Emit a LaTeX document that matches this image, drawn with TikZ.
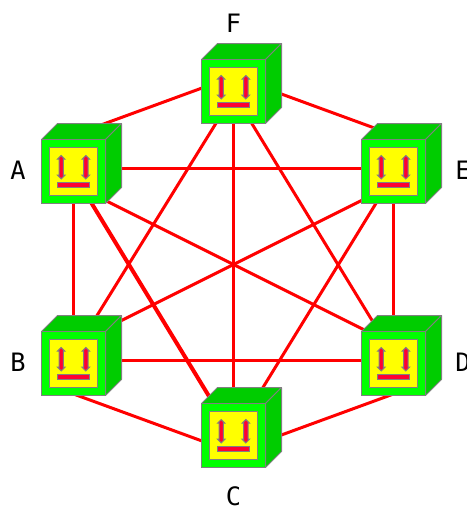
\documentclass[tikz,border=0pt]{standalone}
\usepackage{fontspec}
\setmainfont{DejaVu Sans Mono}
\usetikzlibrary{positioning}
\usetikzlibrary{calc}
\usetikzlibrary{backgrounds}
\definecolor{facegreen}{HTML}{00FF00}
\definecolor{sidegreen}{HTML}{00CC00}
\definecolor{panelyellow}{HTML}{FFFF00}
\definecolor{markred}{HTML}{FF0033}
\definecolor{edgegray}{HTML}{808080}

\tikzset{
    cubeface/.style={draw=edgegray, fill=facegreen, line width=0.75pt, minimum size=48pt, inner sep=0pt, outer sep=0pt},
    cubepanel/.style={draw=edgegray, fill=panelyellow, line width=0.75pt, minimum size=36pt, inner sep=0pt, outer sep=0pt},
    cubeside/.style={draw=edgegray, fill=sidegreen, line width=0.75pt, line join=round},
    cubemark/.style={draw=edgegray, fill=markred, line width=0.75pt},
    link/.style={draw=red, line width=2.25pt},
    boldlink/.style={draw=red, line width=3pt},
    caption/.style={font=\fontsize{19pt}{20pt}\selectfont, inner sep=0pt},
    updown/.pic={
        \path[cubemark] (-3.7,-9.5) -- (0,-13.2) -- (3.7,-9.5) -- (2.2,-9.5) -- (2.2,6.5) -- (3.7,6.5) -- (0,10.2) -- (-3.7,6.5) -- (-2.2,6.5) -- (-2.2,-9.5) -- cycle;
    },
    cube/.pic={
        \path[cubeside] (-32,-32) -- (-16,-48) -- (48,-48) -- (32,-32) -- cycle;
        \path[cubeside] (32,-32) -- (48,-48) -- (48,16) -- (32,32) -- cycle;
        \node[cubeface] (-face) at (0,0) {};
        \node[cubepanel] (-panel) at (0,0) {};
        \pic at (-12.3,-2.8) {updown};
        \pic at (12.3,-2.8) {updown};
        \path[cubemark] (-16.3,11.4) rectangle (16.3,16.4);
    }
}

\begin{document}
\begin{tikzpicture}[x=0.75pt, y=-0.75pt]
    \useasboundingbox (0,0) rectangle (467,507);

    \pic (A) at (73.5,171.5) {cube};
    \pic (B) at (73.5,363.5) {cube};
    \pic (C) at (233.5,435.5) {cube};
    \pic (D) at (393.5,363.5) {cube};
    \pic (E) at (393.5,171.5) {cube};
    \pic (F) at (233.5,91.5) {cube};

    \node[caption] (labelA) at (18,170) {A};
    \node[caption] (labelB) at (18,362.5) {B};
    \node[caption] (labelC) at (233.5,496) {C};
    \node[caption, anchor=west] (labelD) at (455,362.5) {D};
    \node[caption, anchor=west] (labelE) at (455,170) {E};
    \node[caption] (labelF) at (233.5,23) {F};

    \begin{scope}[on background layer]
        % outer ring
        \draw[link] ($(F-face)+(0,-15)$) -- ($(A-face)+(0,-36.5)$);
        \draw[link] (A-face) -- (B-face);
        \draw[link] ($(B-face)+(0,30.5)$) -- ($(C-face)+(0,17)$);
        \draw[link] ($(C-face)+(0,17)$) -- ($(D-face)+(0,30.5)$);
        \draw[link] (D-face) -- (E-face);
        \draw[link] ($(E-face)+(0,-36.5)$) -- ($(F-face)+(0,-15)$);

        \draw[link] ($(A-face)+(0,-3)$) -- ($(E-face)+(0,-3)$);
        \draw[link] ($(B-face)+(0,-3)$) -- ($(D-face)+(0,-3)$);
        \draw[link] (F-face) -- (C-face);

        \draw[link] ($(A-face)+(0,13)$) -- ($(D-face)+(0,-19)$);
        \draw[link] ($(B-face)+(0,-19)$) -- ($(E-face)+(0,13)$);

        \draw[link] ($(F-face)+(0,3.5)$) -- ($(B-face)+(0,-10)$);
        \draw[link] ($(F-face)+(0,2)$) -- ($(D-face)+(0,-8)$);
        \draw[link] (C-face) -- ($(E-face)+(0,3.3)$);
        \draw[boldlink] ($(A-face)+(0,2)$) -- ($(C-face)+(0,1)$);
    \end{scope}
\end{tikzpicture}
\end{document}
